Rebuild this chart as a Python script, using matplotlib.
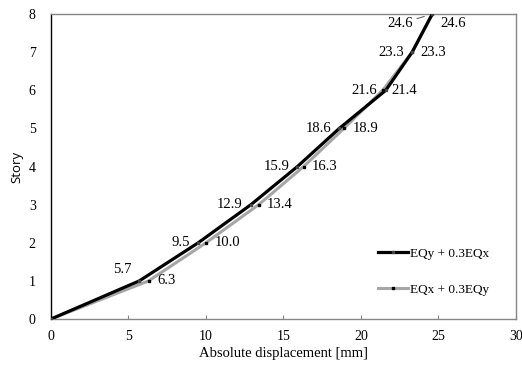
import matplotlib
matplotlib.use("Agg")
import matplotlib.pyplot as plt

# Story drift data (absolute displacement in mm per story)
STORIES = [0, 1, 2, 3, 4, 5, 6, 7, 8]
DISP_Y = [0.0, 5.7, 9.5, 12.9, 15.9, 18.6, 21.6, 23.3, 24.6]   # EQy + 0.3EQx
DISP_X = [0.0, 6.3, 10.0, 13.4, 16.3, 18.9, 21.4, 23.3, 24.6]  # EQx + 0.3EQy
LABEL_Y = "EQy + 0.3EQx"
LABEL_X = "EQx + 0.3EQy"

X_TICKS = [0, 5, 10, 15, 20, 25, 30]
Y_TICKS = [0, 1, 2, 3, 4, 5, 6, 7, 8]

SERIF = ["Liberation Serif", "DejaVu Serif"]
GRAY = "#a6a6a6"
SPINE_GRAY = "#868686"

fig = plt.figure(figsize=(5.22, 3.66), dpi=100)
ax = fig.add_axes([0.0977, 0.1284, 0.8908, 0.8333])

ax.plot(DISP_Y, STORIES, color="black", lw=2.3, marker="s", ms=1.4,
        mfc="#444444", mec="#444444", label=LABEL_Y, zorder=3)
ax.plot(DISP_X, STORIES, color=GRAY, lw=2.2, marker="s", ms=1.8,
        mfc="black", mec="black", label=LABEL_X, zorder=2)

# data labels: black series on the left, gray series on the right
last = len(STORIES) - 1
for i in range(1, len(STORIES)):
    dy_b = 0
    dy_g = 0
    if i == 1:
        dy_b = 8
    if i == last:
        dy_b = -7
        dy_g = -7
    if i == last:
        ax.annotate(f"{DISP_Y[i]:.1f}", (DISP_Y[i], STORIES[i]),
                    xytext=(-14, dy_b), textcoords="offset points",
                    ha="right", va="center", fontsize=10.5, family=SERIF,
                    arrowprops=dict(arrowstyle="-", color="0.4", lw=0.8,
                                    shrinkA=1, shrinkB=6))
    else:
        ax.annotate(f"{DISP_Y[i]:.1f}", (DISP_Y[i], STORIES[i]),
                    xytext=(-6, dy_b), textcoords="offset points",
                    ha="right", va="center", fontsize=10.5, family=SERIF)
    ax.annotate(f"{DISP_X[i]:.1f}", (DISP_X[i], STORIES[i]),
                xytext=(6, dy_g), textcoords="offset points",
                ha="left", va="center", fontsize=10.5, family=SERIF)

ax.set_xlim(0, 30)
ax.set_ylim(0, 8)
ax.set_xticks(X_TICKS)
ax.set_yticks(Y_TICKS)
ax.tick_params(axis="x", direction="in", length=3, color=SPINE_GRAY, pad=8)
ax.tick_params(axis="y", length=0, pad=11)
for lab in ax.get_xticklabels() + ax.get_yticklabels():
    lab.set_fontfamily(SERIF)
    lab.set_fontsize(10)

for side in ["top", "right", "bottom"]:
    ax.spines[side].set_color(SPINE_GRAY)
    ax.spines[side].set_linewidth(1.0)
ax.spines["left"].set_color("black")
ax.spines["left"].set_linewidth(1.0)

ax.set_xlabel("Absolute displacement [mm]", fontsize=10.5, family=SERIF, labelpad=3)
ax.set_ylabel("Story", fontsize=9.5, family=["Open Sans", "DejaVu Sans"], labelpad=4)

ax.legend(loc="upper left", bbox_to_anchor=(0.688, 0.255), frameon=False,
          prop={"family": SERIF, "size": 9.5}, handlelength=2.3,
          handletextpad=0.15, labelspacing=1.8, borderpad=0, markerscale=1.0)

fig.savefig("out.png", dpi=100)
